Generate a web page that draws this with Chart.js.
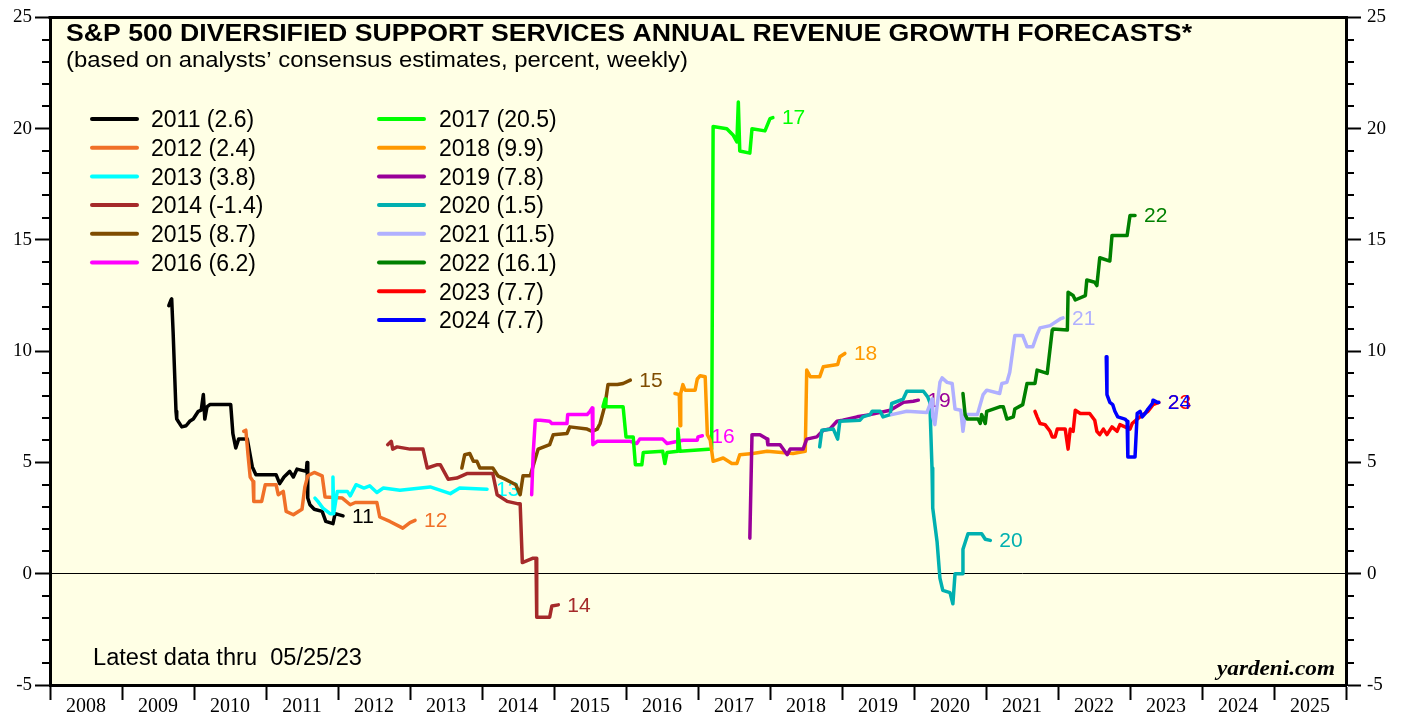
<!DOCTYPE html>
<html>
<head>
<meta charset="utf-8">
<title>S&amp;P 500 Diversified Support Services Annual Revenue Growth Forecasts</title>
<script src="https://cdn.jsdelivr.net/npm/chart.js@4.4.1/dist/chart.umd.min.js"></script>
<style>
  html, body { margin: 0; padding: 0; background: #fff; }
  #wrap { width: 1405px; height: 717px; }
</style>
</head>
<body>
<div id="wrap"><canvas id="chart" width="1405" height="717"></canvas></div>
<script>
'use strict';

/* ---- data: [decimal year, percent] ---- */
const years = [2011, 2012, 2013, 2014, 2015, 2016, 2017, 2018, 2019, 2020, 2021, 2022, 2023, 2024];
const seriesColors = ['#000000', '#f07028', '#00ffff', '#a52a2a', '#7f4c00', '#ff00ff', '#00ff00',
                      '#ff9900', '#990099', '#00b0b0', '#b0b0ff', '#008000', '#ff0000', '#0000ff'];

const f2011 = [[2009.65,12.05],[2009.68,12.3],[2009.69,12.35],[2009.71,10.85],[2009.75,7.3],[2009.76,6.95],
  [2009.83,6.6],[2009.89,6.65],[2009.94,6.85],[2009.99,6.95],[2010.06,7.3],[2010.10,7.35],[2010.13,8.05],
  [2010.15,6.95],[2010.18,7.5],[2010.22,7.6],[2010.51,7.6],[2010.54,6.3],[2010.58,5.65],[2010.62,6.05],
  [2010.74,6.05],[2010.81,4.8],[2010.86,4.45],[2011.14,4.45],[2011.19,4.05],[2011.25,4.35],[2011.33,4.6],
  [2011.38,4.35],[2011.43,4.7],[2011.56,4.6],[2011.57,5.0],[2011.58,3.4],[2011.61,3.1],[2011.67,2.9],
  [2011.78,2.8],[2011.83,2.35],[2011.93,2.25],[2011.96,2.7],[2012.07,2.6]];
const f2012 = [[2010.69,6.4],[2010.72,6.45],[2010.75,5.35],[2010.78,4.35],[2010.82,4.15],[2010.83,3.25],
  [2010.94,3.25],[2010.99,4.0],[2011.14,4.0],[2011.17,3.55],[2011.24,3.7],[2011.28,2.8],[2011.38,2.65],
  [2011.50,2.9],[2011.54,3.9],[2011.58,4.4],[2011.67,4.55],[2011.78,4.4],[2011.82,3.45],[2012.06,3.4],
  [2012.17,3.1],[2012.24,3.2],[2012.54,3.2],[2012.58,2.55],[2012.72,2.35],[2012.90,2.05],[2013.00,2.3],
  [2013.07,2.4]];
const f2013 = [[2011.68,3.4],[2011.72,3.25],[2011.79,2.95],[2011.89,2.7],[2011.92,2.7],[2011.93,4.35],
  [2011.94,2.7],[2011.99,3.7],[2012.13,3.7],[2012.17,3.5],[2012.25,4.0],[2012.36,3.85],[2012.44,3.95],
  [2012.54,3.65],[2012.63,3.85],[2012.86,3.75],[2013.28,3.9],[2013.56,3.6],[2013.69,3.85],[2014.07,3.8]];
const f2014 = [[2012.69,5.8],[2012.74,5.95],[2012.76,5.6],[2012.82,5.7],[2013.00,5.6],[2013.18,5.6],
  [2013.24,4.75],[2013.38,4.9],[2013.42,4.9],[2013.53,4.25],[2013.65,4.3],[2013.79,4.5],[2014.15,4.5],
  [2014.21,3.55],[2014.35,3.25],[2014.49,3.15],[2014.53,3.15],[2014.56,0.5],[2014.71,0.7],[2014.75,0.7],
  [2014.76,-1.95],[2014.94,-1.95],[2014.97,-1.45],[2015.06,-1.4]];
const f2015 = [[2013.72,4.75],[2013.76,5.35],[2013.83,5.4],[2013.88,5.05],[2013.93,5.05],[2013.97,4.75],
  [2014.15,4.75],[2014.22,4.4],[2014.32,4.25],[2014.47,4.0],[2014.53,3.55],[2014.57,4.4],[2014.67,4.4],
  [2014.78,5.6],[2014.94,5.8],[2014.99,6.25],[2015.18,6.3],[2015.22,6.6],[2015.46,6.5],[2015.53,6.4],
  [2015.60,6.5],[2015.64,6.75],[2015.71,7.6],[2015.75,8.5],[2015.88,8.5],[2015.96,8.55],[2016.06,8.7]];
const f2016 = [[2014.69,3.55],[2014.71,5.35],[2014.74,6.9],[2014.81,6.9],[2014.94,6.85],[2014.97,6.75],
  [2015.18,6.75],[2015.19,7.15],[2015.46,7.15],[2015.50,7.3],[2015.53,7.45],[2015.54,5.8],[2015.60,5.95],
  [2016.06,5.95],[2016.15,5.85],[2016.19,6.05],[2016.51,6.05],[2016.57,5.85],[2016.79,6.0],[2016.99,6.0],
  [2017.00,6.15],[2017.06,6.2]];
const f2017 = [[2015.68,7.5],[2015.71,7.85],[2015.72,7.5],[2015.96,7.5],[2016.00,6.15],[2016.10,6.15],
  [2016.13,4.9],[2016.22,4.9],[2016.24,5.45],[2016.51,5.5],[2016.54,4.95],[2016.57,5.45],[2016.72,5.5],
  [2016.72,6.5],[2016.75,5.5],[2017.19,5.6],[2017.21,20.1],[2017.40,20.0],[2017.49,19.7],[2017.54,19.4],
  [2017.56,21.2],[2017.58,19.0],[2017.72,18.9],[2017.75,20.0],[2017.93,19.9],[2018.00,20.45],[2018.04,20.5]];
const f2018 = [[2016.68,8.1],[2016.74,8.05],[2016.75,6.65],[2016.76,8.1],[2016.79,8.5],[2016.82,8.25],
  [2016.96,8.25],[2016.99,8.75],[2017.03,8.9],[2017.10,8.85],[2017.13,6.25],[2017.17,6.0],[2017.21,5.05],
  [2017.35,5.2],[2017.47,4.95],[2017.54,4.95],[2017.58,5.35],[2017.76,5.4],[2017.96,5.5],[2018.32,5.4],
  [2018.49,5.5],[2018.51,9.15],[2018.56,8.85],[2018.69,8.85],[2018.74,9.3],[2018.94,9.4],[2018.97,9.75],
  [2019.04,9.9]];
const f2019 = [[2017.72,1.6],[2017.75,6.25],[2017.86,6.25],[2017.96,6.05],[2017.97,5.8],[2018.14,5.8],
  [2018.24,5.35],[2018.28,5.6],[2018.46,5.6],[2018.51,6.05],[2018.65,6.15],[2018.74,6.45],[2018.83,6.5],
  [2018.93,6.85],[2019.01,6.9],[2019.21,7.05],[2019.39,7.15],[2019.67,7.35],[2019.85,7.7],[2019.99,7.75],
  [2020.06,7.8]];
const f2020 = [[2018.69,5.7],[2018.72,6.45],[2018.88,6.5],[2018.94,6.05],[2018.97,6.85],[2019.25,6.9],
  [2019.29,7.05],[2019.39,7.15],[2019.42,7.3],[2019.53,7.3],[2019.57,7.05],[2019.67,7.15],[2019.69,7.65],
  [2019.85,7.85],[2019.90,8.2],[2020.13,8.2],[2020.19,7.95],[2020.22,7.7],[2020.25,4.75],[2020.26,2.95],
  [2020.32,1.45],[2020.36,-0.2],[2020.40,-0.75],[2020.50,-0.85],[2020.54,-1.35],[2020.57,0.0],[2020.67,0.0],
  [2020.68,1.1],[2020.75,1.8],[2020.94,1.8],[2020.99,1.55],[2021.06,1.5]];
const f2021 = [[2019.69,7.15],[2019.90,7.3],[2020.18,7.25],[2020.25,7.85],[2020.26,7.05],[2020.29,6.7],
  [2020.36,8.6],[2020.39,8.8],[2020.46,8.6],[2020.53,8.55],[2020.57,7.4],[2020.65,7.35],[2020.68,6.4],
  [2020.71,7.15],[2020.88,7.15],[2020.96,8.05],[2021.01,8.25],[2021.19,8.1],[2021.22,8.55],[2021.29,8.6],
  [2021.33,9.05],[2021.40,10.7],[2021.51,10.7],[2021.57,10.2],[2021.65,10.2],[2021.71,10.75],[2021.75,11.05],
  [2021.89,11.15],[2022.03,11.45],[2022.07,11.5]];
const f2022 = [[2020.68,8.1],[2020.71,7.15],[2020.74,6.95],[2020.89,6.95],[2020.92,6.75],[2020.94,7.15],
  [2020.99,6.75],[2021.01,7.3],[2021.19,7.5],[2021.24,7.5],[2021.29,6.95],[2021.38,7.05],[2021.40,7.4],
  [2021.51,7.6],[2021.57,8.55],[2021.68,8.55],[2021.71,9.15],[2021.85,9.0],[2021.92,10.95],[2021.93,11.0],
  [2022.13,10.95],[2022.14,12.65],[2022.21,12.5],[2022.24,12.3],[2022.38,12.5],[2022.40,13.2],[2022.51,13.1],
  [2022.54,12.95],[2022.58,14.2],[2022.72,14.05],[2022.75,15.2],[2022.96,15.2],[2023.00,16.1],[2023.07,16.1]];
const f2023 = [[2021.68,7.3],[2021.71,7.05],[2021.75,6.75],[2021.82,6.7],[2021.89,6.4],[2021.92,6.15],
  [2021.96,6.15],[2021.99,6.5],[2022.10,6.5],[2022.14,5.6],[2022.17,6.5],[2022.21,6.4],[2022.24,7.35],
  [2022.31,7.2],[2022.44,7.2],[2022.51,6.9],[2022.54,6.4],[2022.58,6.25],[2022.63,6.5],[2022.68,6.25],
  [2022.75,6.6],[2022.82,6.4],[2022.86,6.7],[2023.00,6.5],[2023.03,6.75],[2023.10,6.95],[2023.18,7.15],
  [2023.25,7.3],[2023.32,7.6],[2023.40,7.7]];
const f2024 = [[2022.67,9.75],[2022.68,8.05],[2022.72,7.7],[2022.76,7.6],[2022.79,7.3],[2022.83,7.05],
  [2022.93,6.95],[2022.96,6.85],[2022.97,5.25],[2023.07,5.25],[2023.10,7.2],[2023.14,7.3],[2023.17,7.05],
  [2023.21,7.2],[2023.25,7.4],[2023.31,7.65],[2023.32,7.8],[2023.38,7.7],[2023.40,7.7]];

const forecasts = [f2011, f2012, f2013, f2014, f2015, f2016, f2017, f2018, f2019, f2020, f2021, f2022, f2023, f2024];

const xTicks = [2008, 2009, 2010, 2011, 2012, 2013, 2014, 2015, 2016, 2017, 2018, 2019, 2020, 2021, 2022, 2023, 2024, 2025, 2026];
const yTicks = [-5, 0, 5, 10, 15, 20, 25];

/* ---- looks ---- */
const BG = 'rgb(255,255,229)';
const SANS = "'Liberation Sans', Arial, sans-serif";
const SERIF = "'Liberation Serif', 'Times New Roman', serif";

// draw text squeezed/stretched to a given width (the original is slightly wide)
function fitText(ctx, text, x, y, font, width) {
    ctx.font = font;
    const w = ctx.measureText(text).width;
    ctx.save();
    ctx.translate(x, y);
    ctx.scale(width / w, 1);
    ctx.fillText(text, 0, 0);
    ctx.restore();
}

const decor = {
    id: 'decor',
    beforeDraw(chart) {
        const { ctx, chartArea: a } = chart;
        ctx.save();
        ctx.fillStyle = '#fff';
        ctx.fillRect(0, 0, chart.width, chart.height);
        ctx.fillStyle = BG;
        ctx.fillRect(a.left, a.top, a.right - a.left, a.bottom - a.top);
        ctx.restore();
    },
    beforeDatasetsDraw(chart) {
        // year labels at the end of each line (lines drawn over them)
        const { ctx } = chart;
        const xs = chart.scales.x, ys = chart.scales.y;
        ctx.save();
        ctx.font = '21px ' + SANS;
        ctx.textAlign = 'left';
        ctx.textBaseline = 'middle';
        forecasts.forEach((pts, i) => {
            const last = pts[pts.length - 1];
            ctx.fillStyle = seriesColors[i];
            ctx.fillText(String(years[i]).slice(2), xs.getPixelForValue(last[0]) + 9, ys.getPixelForValue(last[1]) + 1);
        });
        ctx.restore();
    },
    afterDraw(chart) {
        const { ctx, chartArea: a } = chart;
        const ys = chart.scales.y;
        ctx.save();

        // top frame line
        ctx.strokeStyle = '#000';
        ctx.lineWidth = 3;
        ctx.beginPath();
        ctx.moveTo(a.left - 1.5, a.top);
        ctx.lineTo(a.right + 1.5, a.top);
        ctx.stroke();

        // minor ticks on both value axes
        ctx.lineWidth = 2;
        for (let v = -5; v <= 25; v++) {
            if (v % 5 === 0) continue;
            const py = Math.round(ys.getPixelForValue(v));
            ctx.beginPath();
            ctx.moveTo(a.left - 8, py); ctx.lineTo(a.left, py);
            ctx.moveTo(a.right, py); ctx.lineTo(a.right + 8, py);
            ctx.stroke();
        }

        // titles
        ctx.fillStyle = '#000';
        ctx.textBaseline = 'alphabetic';
        ctx.textAlign = 'left';
        fitText(ctx, 'S&P 500 DIVERSIFIED SUPPORT SERVICES ANNUAL REVENUE GROWTH FORECASTS*', 66, 41, 'bold 23.5px ' + SANS, 1126);
        fitText(ctx, '(based on analysts\u2019 consensus estimates, percent, weekly)', 66, 67, '22px ' + SANS, 622);

        // legend, two columns
        const cols = [{ lineX: 92, textX: 151 }, { lineX: 379, textX: 439 }];
        ctx.font = '23px ' + SANS;
        years.forEach((yr, i) => {
            const col = i < 6 ? cols[0] : cols[1];
            const row = i < 6 ? i : i - 6;
            const cy = 119 + row * 28.7;
            const pts = forecasts[i];
            ctx.strokeStyle = seriesColors[i];
            ctx.lineWidth = 4;
            ctx.lineCap = 'round';
            ctx.beginPath();
            ctx.moveTo(col.lineX, cy); ctx.lineTo(col.lineX + 45, cy);
            ctx.stroke();
            ctx.fillStyle = '#000';
            ctx.fillText(yr + ' (' + pts[pts.length - 1][1].toFixed(1) + ')', col.textX, cy + 8.3);
        });

        fitText(ctx, 'Latest data thru  05/25/23', 93, 665, '23px ' + SANS, 269);
        fitText(ctx, 'yardeni.com', 1217, 675, 'italic bold 20px ' + SERIF, 118);
        ctx.restore();
    }
};

new Chart(document.getElementById('chart'), {
    type: 'line',
    data: {
        datasets: forecasts.map((pts, i) => ({
            label: String(years[i]),
            data: pts.map(p => ({ x: p[0], y: p[1] })),
            borderColor: seriesColors[i],
            backgroundColor: seriesColors[i],
            borderWidth: 3.5,
            borderJoinStyle: 'round',
            borderCapStyle: 'round',
            pointRadius: 0,
            tension: 0,
            fill: false,
            order: forecasts.length - i,
        })),
    },
    options: {
        responsive: false,
        animation: false,
        devicePixelRatio: 1,
        layout: { padding: { top: 13, left: 0, right: 0, bottom: 0 } },
        plugins: { legend: { display: false }, tooltip: { enabled: false } },
        scales: {
            x: {
                type: 'linear',
                position: 'bottom',
                min: 2008,
                max: 2026,
                afterBuildTicks: s => { s.ticks = xTicks.map(v => ({ value: v })); },
                afterFit: s => { s.height = 32; },
                grid: { drawOnChartArea: false, drawTicks: true, tickLength: 15, tickWidth: 2, tickColor: '#000' },
                border: { display: true, color: '#000', width: 3 },
                ticks: {
                    autoSkip: false, maxRotation: 0, minRotation: 0, labelOffset: 36, padding: -5,
                    color: '#000', font: { family: SERIF, size: 20 },
                    callback: v => (v < 2026 ? String(v) : ''),
                },
            },
            y: {
                position: 'left',
                min: -5,
                max: 25,
                afterBuildTicks: s => { s.ticks = yTicks.map(v => ({ value: v })); },
                afterFit: s => { s.width = 50; },
                grid: {
                    drawOnChartArea: true, drawTicks: true, tickLength: 15, tickWidth: 2, tickColor: '#000',
                    color: c => (c.tick && c.tick.value === 0 ? '#000' : 'rgba(0,0,0,0)'),
                    lineWidth: 1,
                },
                border: { display: true, color: '#000', width: 3 },
                ticks: { autoSkip: false, padding: 3, color: '#000', font: { family: SERIF, size: 19 } },
            },
            y2: {
                position: 'right',
                min: -5,
                max: 25,
                afterBuildTicks: s => { s.ticks = yTicks.map(v => ({ value: v })); },
                afterFit: s => { s.width = 59; },
                grid: { drawOnChartArea: false, drawTicks: true, tickLength: 15, tickWidth: 2, tickColor: '#000' },
                border: { display: true, color: '#000', width: 3 },
                ticks: { autoSkip: false, padding: 6, color: '#000', font: { family: SERIF, size: 19 } },
            },
        },
    },
    plugins: [decor],
});
</script>
</body>
</html>
